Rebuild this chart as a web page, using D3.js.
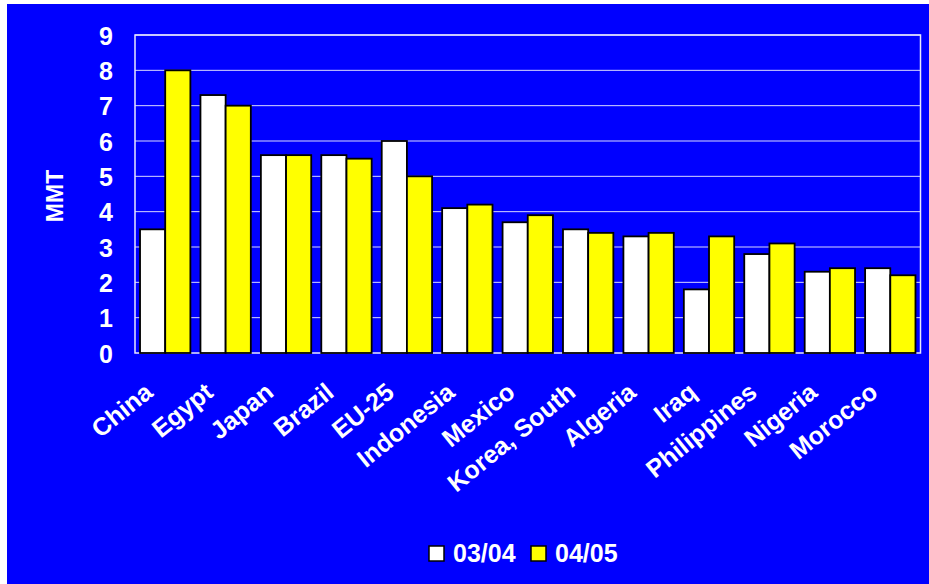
<!DOCTYPE html>
<html>
<head>
<meta charset="utf-8">
<script src="https://cdn.jsdelivr.net/npm/d3@7"></script>
<style>
  html, body { margin: 0; padding: 0; background: #ffffff; }
  svg { display: block; }
  text { font-family: "Liberation Sans", Arial, sans-serif; font-weight: bold; fill: #ffffff; }
</style>
</head>
<body>
<svg id="chart" width="929" height="584"></svg>
<script>
// Wheat imports by country, million metric tons
const countries = ["China", "Egypt", "Japan", "Brazil", "EU-25", "Indonesia", "Mexico",
  "Korea, South", "Algeria", "Iraq", "Philippines", "Nigeria", "Morocco"];
const seriesNames = ["03/04", "04/05"];
const values0304 = [3.5, 7.3, 5.6, 5.6, 6.0, 4.1, 3.7, 3.5, 3.3, 1.8, 2.8, 2.3, 2.4];
const values0405 = [8.0, 7.0, 5.6, 5.5, 5.0, 4.2, 3.9, 3.4, 3.4, 3.3, 3.1, 2.4, 2.2];
const yTicks = [0, 1, 2, 3, 4, 5, 6, 7, 8, 9];
const yTitle = "MMT";

const seriesValues = [values0304, values0405];
const seriesColors = ["#ffffff", "#ffff00"];

const svg = d3.select("#chart");

// Background panel
svg.append("rect")
  .attr("x", 7).attr("y", 4)
  .attr("width", 922).attr("height", 580)
  .attr("fill", "#0000ff");

const plot = { left: 135, right: 920.5, top: 35, bottom: 353 };

const x0 = d3.scaleBand()
  .domain(countries)
  .range([plot.left, plot.right])
  .paddingInner(0)
  .paddingOuter(0);

const x1 = d3.scaleBand()
  .domain(seriesNames)
  .range([0, x0.bandwidth()])
  .paddingInner(0)
  .paddingOuter(0.2);

const y = d3.scaleLinear()
  .domain([0, 9])
  .range([plot.bottom, plot.top]);

// Horizontal gridlines
svg.append("g")
  .selectAll("line")
  .data(yTicks.filter(t => t > 0))
  .join("line")
  .attr("x1", plot.left).attr("x2", plot.right)
  .attr("y1", d => y(d)).attr("y2", d => y(d))
  .attr("stroke", "#d8d8ff")
  .attr("stroke-width", 1);

// Plot frame
svg.append("rect")
  .attr("x", plot.left).attr("y", plot.top)
  .attr("width", plot.right - plot.left)
  .attr("height", plot.bottom - plot.top)
  .attr("fill", "none")
  .attr("stroke", "#e8e8ff")
  .attr("stroke-width", 1.5);

// Bars
const groups = svg.append("g")
  .selectAll("g")
  .data(countries)
  .join("g")
  .attr("transform", d => `translate(${x0(d)},0)`);

groups.selectAll("rect")
  .data((d, i) => seriesNames.map((s, k) => ({ series: s, value: seriesValues[k][i], k })))
  .join("rect")
  .attr("x", d => x1(d.series))
  .attr("y", d => y(d.value))
  .attr("width", x1.bandwidth())
  .attr("height", d => y(0) - y(d.value))
  .attr("fill", d => seriesColors[d.k])
  .attr("stroke", "#000000")
  .attr("stroke-width", 1.8);

// Y axis
const yAxis = d3.axisLeft(y)
  .tickValues(yTicks)
  .tickFormat(d3.format("d"))
  .tickSize(0)
  .tickPadding(22);

const yg = svg.append("g")
  .attr("transform", `translate(${plot.left},0)`)
  .call(yAxis);
yg.select(".domain").remove();
yg.selectAll("text")
  .attr("font-size", 25)
  .attr("fill", "#ffffff")
  .attr("dy", "0.36em");

// Y title
svg.append("text")
  .attr("transform", `translate(63,${(plot.top + plot.bottom) / 2 + 2}) rotate(-90)`)
  .attr("text-anchor", "middle")
  .attr("font-size", 23)
  .text(yTitle);

// X axis labels
const xAxis = d3.axisBottom(x0).tickSize(0).tickPadding(0);
const xg = svg.append("g")
  .attr("transform", `translate(0,${plot.bottom})`)
  .call(xAxis);
xg.select(".domain").remove();
xg.selectAll("text")
  .attr("font-size", 25)
  .attr("fill", "#ffffff")
  .attr("text-anchor", "end")
  .attr("dy", null)
  .attr("y", 0)
  .attr("transform", "translate(-11,42) rotate(-39)");

// Legend
const legend = svg.append("g").attr("transform", "translate(429,546)");
const legendX = [0, 102];
seriesNames.forEach((s, k) => {
  const g = legend.append("g").attr("transform", `translate(${legendX[k]},0)`);
  g.append("rect")
    .attr("width", 15).attr("height", 15)
    .attr("fill", seriesColors[k])
    .attr("stroke", "#000000")
    .attr("stroke-width", 1.5);
  g.append("text")
    .attr("x", 24).attr("y", 15.5)
    .attr("font-size", 25)
    .text(s);
});
</script>
</body>
</html>
